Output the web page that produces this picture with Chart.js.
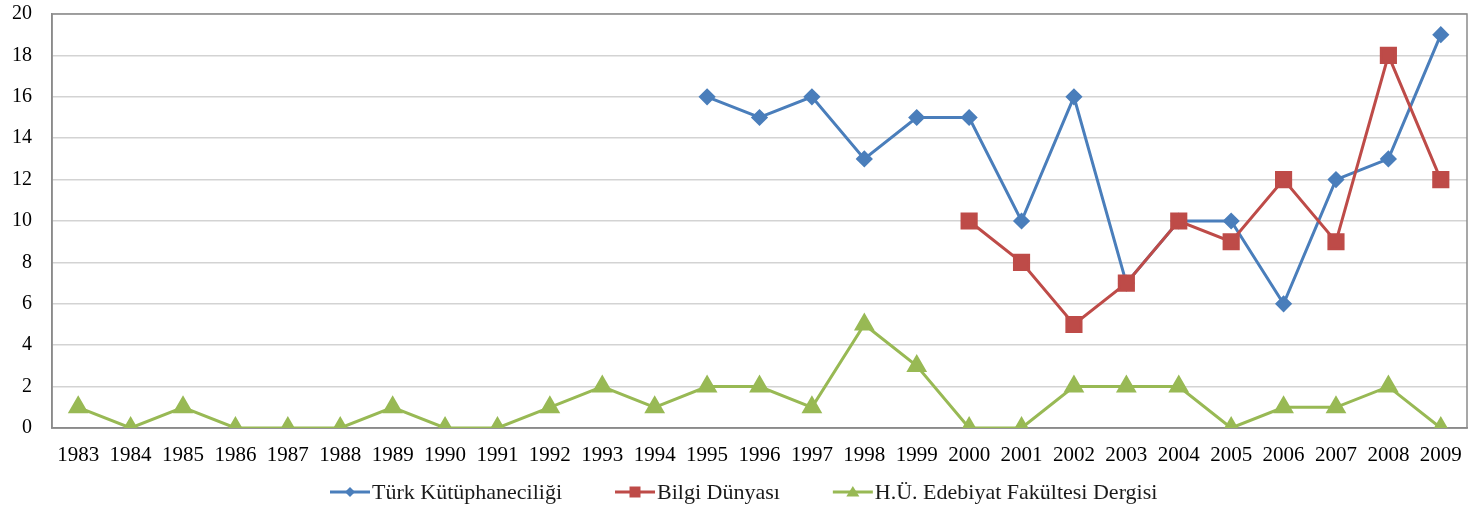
<!DOCTYPE html>
<html>
<head>
<meta charset="utf-8">
<script src="https://cdn.jsdelivr.net/npm/chart.js@4.4.1/dist/chart.umd.min.js"></script>
<style>
  html, body { margin: 0; background: #fff; }
  #wrap { width: 1480px; height: 510px; }
</style>
</head>
<body>
<div id="wrap"><canvas id="c"></canvas></div>
<script>
const years = ["1983","1984","1985","1986","1987","1988","1989","1990","1991","1992","1993","1994","1995",
  "1996","1997","1998","1999","2000","2001","2002","2003","2004","2005","2006","2007","2008","2009"]

const turkKutuphaneciligi = [null,null,null,null,null,null,null,null,null,null,null,null,
  16,15,16,13,15,15,10,16,7,10,10,6,12,13,19]
const bilgiDunyasi = [null,null,null,null,null,null,null,null,null,null,null,null,null,null,null,null,null,
  10,8,5,7,10,9,12,9,18,12]
const huEdebiyat = [1,0,1,0,0,0,1,0,0,1,2,1,2,2,1,5,3,0,0,2,2,2,0,1,1,2,0]

const seriesNames = ["Türk Kütüphaneciliği", "Bilgi Dünyası", "H.Ü. Edebiyat Fakültesi Dergisi"]

const FONT = '"Liberation Serif", "Times New Roman", serif'
const AXIS = '#8a8a8a'

function marker(ctx, style, x, y, color) {
  ctx.fillStyle = color
  ctx.beginPath()
  if (style === 'rectRot') {
    ctx.moveTo(x, y - 5); ctx.lineTo(x + 5, y); ctx.lineTo(x, y + 5); ctx.lineTo(x - 5, y)
  } else if (style === 'rect') {
    ctx.rect(x - 5.5, y - 5.5, 11, 11)
  } else {
    ctx.moveTo(x, y - 6); ctx.lineTo(x + 6.5, y + 4.5); ctx.lineTo(x - 6.5, y + 4.5)
  }
  ctx.closePath()
  ctx.fill()
}

// frame around the plot area (top + right edges like the original)
const framePlugin = {
  id: 'frame',
  beforeDatasetsDraw(chart) {
    const { ctx, chartArea: a } = chart
    ctx.save()
    ctx.strokeStyle = AXIS
    ctx.lineWidth = 1.5
    ctx.strokeRect(a.left, a.top, a.right - a.left, a.bottom - a.top)
    ctx.restore()
  }
}

// legend with a line segment + marker, like office charts
const lineLegend = {
  id: 'lineLegend',
  afterDraw(chart) {
    const ctx = chart.ctx
    ctx.save()
    ctx.font = '22px ' + FONT
    ctx.textBaseline = 'middle'
    const items = chart.data.datasets.map(ds => ({ ds, w: 43 + ctx.measureText(ds.label).width }))
    const gap = 52
    let x = 330
    const y = 492
    items.forEach(({ ds, w }) => {
      ctx.strokeStyle = ds.borderColor
      ctx.lineWidth = 3
      ctx.beginPath()
      ctx.moveTo(x, y); ctx.lineTo(x + 40, y)
      ctx.stroke()
      marker(ctx, ds.pointStyle, x + 20, y, ds.borderColor)
      ctx.fillStyle = '#1a1a1a'
      ctx.fillText(ds.label, x + 42, y + 1)
      x += w + gap
    })
    ctx.restore()
  }
}

const ds = (label, data, color, style, r, order) => ({
  label, data, order,
  borderColor: color,
  backgroundColor: color,
  pointBackgroundColor: color,
  pointBorderColor: color,
  borderWidth: 3,
  pointStyle: style,
  pointRadius: r,
  pointHoverRadius: r,
  tension: 0,
  spanGaps: false
})

new Chart(document.getElementById('c'), {
  type: 'line',
  data: {
    labels: years,
    datasets: [
      ds(seriesNames[0], turkKutuphaneciligi, '#4A7EBB', 'rectRot', 6.5, 3),
      ds(seriesNames[1], bilgiDunyasi, '#BE4B48', 'rect', 10, 2),
      ds(seriesNames[2], huEdebiyat, '#98B954', 'triangle', 9, 1)
    ]
  },
  options: {
    responsive: true,
    maintainAspectRatio: false,
    animation: false,
    layout: { padding: { top: 14, right: 4, bottom: 45, left: 0 } },
    plugins: { legend: { display: false }, tooltip: { enabled: false } },
    scales: {
      x: {
        offset: true,
        grid: { display: false },
        border: { color: AXIS, width: 1.5 },
        ticks: { color: '#000', font: { family: FONT, size: 21 }, padding: 7, maxRotation: 0, autoSkip: false },
        afterFit: s => { s.height = 37; s.paddingLeft = 0; s.paddingRight = 0 }
      },
      y: {
        min: 0, max: 20,
        grid: { color: '#d3d3d3', lineWidth: 1.5, drawTicks: false },
        border: { color: AXIS, width: 1.5 },
        ticks: { stepSize: 2, color: '#000', font: { family: FONT, size: 20 }, padding: 20 },
        afterFit: s => { s.width = 52; s.paddingTop = 0; s.paddingBottom = 0 }
      }
    }
  },
  plugins: [framePlugin, lineLegend]
})
</script>
</body>
</html>
